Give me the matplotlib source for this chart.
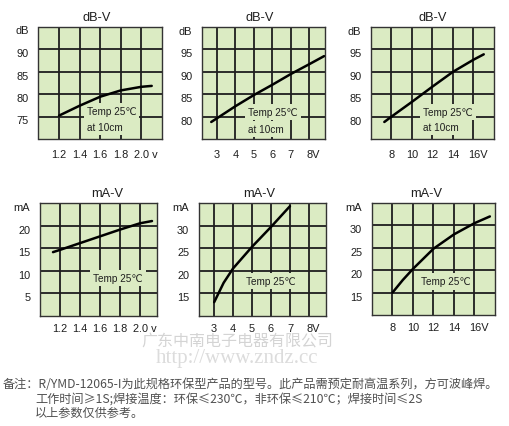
import matplotlib
matplotlib.use("Agg")
import matplotlib.pyplot as plt
import matplotlib.transforms as mtransforms

# ---- data -------------------------------------------------------------
# dB-V, 1.2-2.0 V model
volts1 = [1.2, 1.4, 1.6, 1.8, 2.0, 2.1]
db1 = [75.2, 77.4, 79.4, 80.8, 81.6, 81.8]
# dB-V, 3-8 V model
volts2 = [2.7, 3, 4, 5, 6, 7, 8, 8.8]
db2 = [78.8, 79.6, 82.3, 84.8, 87.1, 89.5, 91.7, 93.5]
# dB-V, 8-16 V model
volts3 = [7.3, 8, 10, 12, 14, 16, 17]
db3 = [78.8, 80.0, 83.3, 86.7, 90.0, 92.7, 93.9]
# mA-V curves for the same three models
volts4 = [1.13, 1.2, 1.4, 1.6, 1.8, 2.0, 2.12]
ma4 = [14.1, 14.6, 16.1, 17.6, 19.1, 20.5, 21.0]
volts5 = [3, 3.5, 4, 5, 6, 7]
ma5 = [13.0, 17.3, 20.5, 25.3, 29.7, 34.3]
volts6 = [8, 9, 10, 12, 14, 16, 17.5]
ma6 = [15.0, 17.8, 20.3, 24.8, 28.0, 30.5, 32.0]

# tick positions and labels
xt1 = [1.2, 1.4, 1.6, 1.8, 2.0]
xl1 = ["1.2", "1.4", "1.6", "1.8", "2.0 v"]
xt2 = [3, 4, 5, 6, 7, 8]
xl2 = ["3", "4", "5", "6", "7", "8V"]
xt3 = [8, 10, 12, 14, 16]
xl3 = ["8", "10", "12", "14", "16V"]
yt_db1 = [75, 80, 85, 90, 95]
yl_db1 = ["75", "80", "85", "90", "dB"]
yt_db2 = [80, 85, 90, 95, 100]
yl_db2 = ["80", "85", "90", "95", "dB"]
yt_ma1 = [5, 10, 15, 20, 25]
yl_ma1 = ["5", "10", "15", "20", "mA"]
yt_ma2 = [15, 20, 25, 30, 35]
yl_ma2 = ["15", "20", "25", "30", "mA"]

W, H = 510, 427
FACE = "#dbebc3"
INK = "#1e1e1e"
LAT = ["Liberation Sans", "DejaVu Sans"]

fig = plt.figure(figsize=(W / 100, H / 100), dpi=100)
fig.patch.set_facecolor("white")


def rect(l, t, r, b):
    return [l / W, 1 - b / H, (r - l) / W, (b - t) / H]


def panel(box, title, tx, xs, ys, xlim, ylim, xt, xl, yt, yl, xpad,
          notes, unit_shift):
    ax = fig.add_axes(rect(*box))
    ax.set_facecolor(FACE)
    ax.set_xlim(*xlim)
    ax.set_ylim(*ylim)
    ax.set_xticks(xt)
    ax.set_xticklabels(xl, family=LAT, fontsize=7.9, color=INK)
    ax.set_yticks(yt)
    ax.set_yticklabels(yl, family=LAT, fontsize=7.9, color=INK)
    ax.tick_params(axis="both", length=0)
    ax.tick_params(axis="y", pad=7)
    ax.tick_params(axis="x", pad=xpad)
    # nudge the y labels a little below their grid lines
    down = mtransforms.ScaledTranslation(0, -3 / 100, fig.dpi_scale_trans)
    for lab in ax.get_yticklabels():
        lab.set_transform(lab.get_transform() + down)
    # keep the number of the last x label centred on its line
    last = ax.get_xticklabels()[-1]
    shift = mtransforms.ScaledTranslation(unit_shift / 100, 0,
                                          fig.dpi_scale_trans)
    last.set_transform(last.get_transform() + shift)
    ax.grid(True, color=INK, linewidth=1.3)
    ax.set_axisbelow(True)
    for s in ax.spines.values():
        s.set_color("#333333")
        s.set_linewidth(1.0)
    ax.set_title(title, x=tx, fontsize=9.2, family=LAT, color=INK, pad=5)
    for (txt, fx, fy) in notes:
        ax.text(fx, fy, txt, transform=ax.transAxes, fontsize=7.2,
                family=LAT, color=INK, va="center", ha="left", zorder=3,
                bbox=dict(facecolor=FACE, edgecolor="none", pad=2.2))
    ax.plot(xs, ys, color="black", linewidth=1.8, zorder=4,
            solid_capstyle="round")
    return ax


panel((38.5, 27.5, 162, 140), "dB-V", 0.47, volts1, db1, (1.0, 2.2),
      (70, 95), xt1, xl1, yt_db1, yl_db1, 7,
      [("Temp 25℃", 0.39, 0.25), ("at 10cm", 0.39, 0.107)], 4.5)
panel((202, 28, 325, 140), "dB-V", 0.47, volts2, db2, (2.2, 8.85),
      (75, 100), xt2, xl2, yt_db2, yl_db2, 7,
      [("Temp 25℃", 0.375, 0.241), ("at 10cm", 0.375, 0.089)], 4)
panel((371, 28, 494, 140), "dB-V", 0.5, volts3, db3, (6, 18),
      (75, 100), xt3, xl3, yt_db2, yl_db2, 7,
      [("Temp 25℃", 0.425, 0.241), ("at 10cm", 0.425, 0.107)], 4)
panel((40, 204, 157, 316.7), "mA-V", 0.57, volts4, ma4, (1.0, 2.17),
      (0, 25), xt1, xl1, yt_ma1, yl_ma1, 5,
      [("Temp 25℃", 0.455, 0.335)], 4.5)
panel((199, 204, 326, 316.7), "mA-V", 0.47, volts5, ma5, (2.2, 8.9),
      (10, 35), xt2, xl2, yt_ma2, yl_ma2, 5,
      [("Temp 25℃", 0.372, 0.31)], 4)
panel((372, 204, 495, 316), "mA-V", 0.44, volts6, ma6, (6, 18),
      (10, 35), xt3, xl3, yt_ma2, yl_ma2, 5,
      [("Temp 25℃", 0.395, 0.30)], 4)

# company watermark and web address
fig.text(237 / W, 1 - 341 / H, "广东中南电子电器有限公司",
         family=["Noto Sans CJK SC", "DejaVu Sans"], fontsize=11.5,
         color="#d4d4d4", ha="center", va="center")
fig.text(237 / W, 1 - 359 / H, "http://www.zndz.cc",
         family=["Liberation Serif", "DejaVu Serif"], fontsize=15,
         color="#dcdcdc", ha="center", va="center")

# remarks below the charts
CJK = ["Noto Sans CJK SC", "DejaVu Sans"]
notes = [
    (3, 385, "备注：R/YMD-12065-I为此规格环保型产品的型号。此产品需预定耐高温系列，方可波峰焊。"),
    (35, 399, "工作时间≥1S;焊接温度：环保≤230℃，非环保≤210℃；焊接时间≤2S"),
    (35, 413, "以上参数仅供参考。"),
]
for x, y, s in notes:
    fig.text(x / W, 1 - y / H, s, family=CJK, fontsize=8.75,
             color="#505050", ha="left", va="center")

fig.savefig("out.png", dpi=100, facecolor="white")
